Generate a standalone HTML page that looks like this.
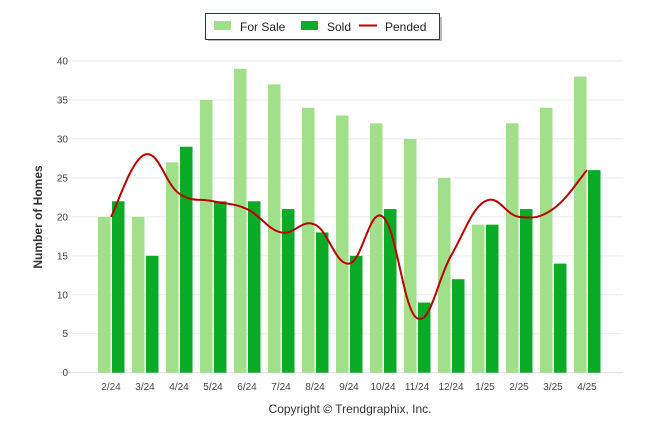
<!DOCTYPE html>
<html><head><meta charset="utf-8"><style>
body{margin:0;background:#fff;font-family:"Liberation Sans",sans-serif}
svg text{font-family:"Liberation Sans",sans-serif}
</style></head><body>
<svg width="646" height="434" xmlns="http://www.w3.org/2000/svg">
<g>
<rect x="206" y="15" width="234" height="24" fill="#777" opacity="0.5" transform="translate(2,2)"/>
<rect x="205.5" y="13.5" width="234" height="26" fill="#fff" stroke="#1f3864" stroke-width="1"/>
<rect x="214" y="21" width="17" height="9" fill="#a1e08a"/>
<text x="240" y="31" font-size="12" fill="#222">For Sale</text>
<rect x="301" y="21" width="17" height="9" fill="#0aab26"/>
<text x="327" y="31" font-size="12" fill="#222">Sold</text>
<rect x="359" y="24.5" width="18" height="2" fill="#c00000"/>
<text x="385" y="31" font-size="12" fill="#222">Pended</text>
</g>
<g id="grid"></g>
<g id="bars"></g>
<path id="line" fill="none" stroke="#c00000" stroke-width="2"/>
<g id="xlabels"></g>
<text transform="translate(42,217) rotate(-90)" text-anchor="middle" font-size="12" font-weight="bold" fill="#333">Number of Homes</text>
<text x="350" y="413" text-anchor="middle" font-size="12" fill="#333">Copyright © Trendgraphix, Inc.</text>
</svg>
<script>
const categories=["2/24","3/24","4/24","5/24","6/24","7/24","8/24","9/24","10/24","11/24","12/24","1/25","2/25","3/25","4/25"];
const forSale=[20,20,27,35,39,37,34,33,32,30,25,19,32,34,38];
const sold=[22,15,29,22,22,21,18,15,21,9,12,19,21,14,26];
const pended=[20,28,23,22,21,18,19,14,20,7,15,22,20,21,26];
const yTicks=[0,5,10,15,20,25,30,35,40];
const NS="http://www.w3.org/2000/svg";
const y0=372.7,y40=61,left=58,right=623;
function ys(v){return y0-(v/40)*(y0-y40);}
function xc(i){return 111+34*i;}
const grid=document.getElementById('grid');
yTicks.forEach(t=>{
 const l=document.createElementNS(NS,'line');
 l.setAttribute('x1',left);l.setAttribute('x2',right);l.setAttribute('y1',ys(t));l.setAttribute('y2',ys(t));
 l.setAttribute('stroke',t===0?'#ddd':'#ebebeb');l.setAttribute('stroke-width','1');
 
 
 grid.appendChild(l);
 const tx=document.createElementNS(NS,'text');
 tx.setAttribute('x',68);tx.setAttribute('y',ys(t)+3.5);tx.setAttribute('text-anchor','end');tx.setAttribute('font-size','10');tx.setAttribute('fill','#444');
 tx.textContent=t;
 
 
 grid.appendChild(tx);
});
const bars=document.getElementById('bars'),xl=document.getElementById('xlabels');
categories.forEach((c,i)=>{
 const a=document.createElementNS(NS,'rect');
 a.setAttribute('x',xc(i)-13);a.setAttribute('width',12.5);a.setAttribute('y',ys(forSale[i]));a.setAttribute('height',y0-ys(forSale[i]));a.setAttribute('fill','#a1e08a');
 
 
 bars.appendChild(a);
 const b=document.createElementNS(NS,'rect');
 b.setAttribute('x',xc(i)+1);b.setAttribute('width',12.5);b.setAttribute('y',ys(sold[i]));b.setAttribute('height',y0-ys(sold[i]));b.setAttribute('fill','#0aab26');
 
 
 bars.appendChild(b);
 const t=document.createElementNS(NS,'text');
 t.setAttribute('x',xc(i));t.setAttribute('y',390);t.setAttribute('text-anchor','middle');t.setAttribute('font-size','10');t.setAttribute('fill','#444');
 t.textContent=c;
 
 
 xl.appendChild(t);
});
const pts=pended.map((v,i)=>[xc(i),ys(v)]);
let d='M'+pts[0][0]+','+pts[0][1];
for(let i=0;i<pts.length-1;i++){
 const p0=pts[i-1]||pts[i],p1=pts[i],p2=pts[i+1],p3=pts[i+2]||pts[i+1];
 const k=0.2;
 const c1=[p1[0]+(p2[0]-p0[0])*k,p1[1]+(p2[1]-p0[1])*k];
 const c2=[p2[0]-(p3[0]-p1[0])*k,p2[1]-(p3[1]-p1[1])*k];
 d+=' C'+c1+' '+c2+' '+p2;
}
document.getElementById('line').setAttribute('d',d);
</script>
</body></html>
